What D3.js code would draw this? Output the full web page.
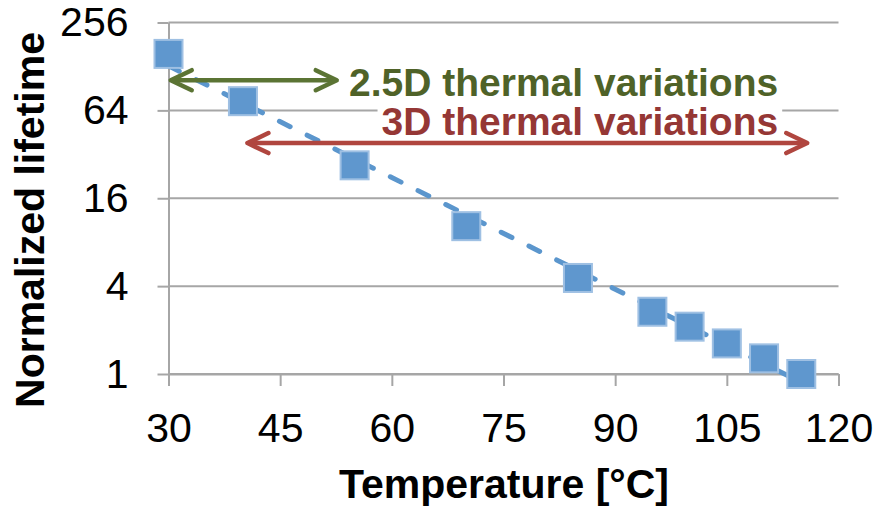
<!DOCTYPE html>
<html>
<head>
<meta charset="utf-8">
<script src="https://cdn.jsdelivr.net/npm/d3@7"></script>
<style>
  html, body { margin: 0; padding: 0; background: #fff; }
  svg { display: block; font-family: "Liberation Sans", Arial, sans-serif; }
</style>
</head>
<body>
<svg id="chart" width="876" height="510"></svg>
<script>
// Measured lifetime, normalized to the value at 115 °C
const temperatures = [30, 40, 55, 70, 85, 95, 100, 105, 110, 115];
const lifetimes = [156, 74, 26.9, 10.3, 4.55, 2.67, 2.11, 1.62, 1.28, 1.0];

const xTicks = [30, 45, 60, 75, 90, 105, 120];
const yTicks = [1, 4, 16, 64, 256];

const xTitle = "Temperature [°C]";
const yTitle = "Normalized lifetime";

// Range annotations: [start °C, end °C, lifetime level of the arrow]
const annotLabels = ["2.5D thermal variations", "3D thermal variations"];
const annotRanges = [[30.3, 52.6, 103], [40.6, 115.8, 38.2]];
const annotTextPos = [[111.9, 80.5], [111.9, 43.6]];   // [°C, lifetime] of label baseline end
const annotTextColors = ["#4F6228", "#953735"];
const annotArrowColors = ["#5B7434", "#B0463F"];

const svg = d3.select("#chart");
const plot = { left: 168.5, right: 838.5, top: 22.5, bottom: 374 };

const x = d3.scaleLinear().domain([30, 120]).range([plot.left, plot.right]);
const y = d3.scaleLog().base(2).domain([1, 256]).range([plot.bottom, plot.top]);

const gridColor = "#A6A6A6";

// horizontal gridlines
svg.append("g")
  .selectAll("line")
  .data(yTicks)
  .join("line")
  .attr("x1", plot.left).attr("x2", plot.right)
  .attr("y1", d => y(d)).attr("y2", d => y(d))
  .attr("stroke", gridColor).attr("stroke-width", 2);

// axes
const yAxis = svg.append("g")
  .attr("transform", `translate(${plot.left},0)`)
  .call(d3.axisLeft(y).tickValues(yTicks).tickFormat(d3.format("d"))
    .tickSize(11).tickSizeOuter(0).tickPadding(29));

const xAxis = svg.append("g")
  .attr("transform", `translate(0,${plot.bottom})`)
  .call(d3.axisBottom(x).tickValues(xTicks).tickFormat(d3.format("d"))
    .tickSize(12).tickSizeOuter(0).tickPadding(27));

[xAxis, yAxis].forEach(g => {
  g.select(".domain").attr("stroke", gridColor).attr("stroke-width", 2);
  g.selectAll(".tick line").attr("stroke", gridColor).attr("stroke-width", 2);
  g.selectAll(".tick text")
    .attr("fill", "#000")
    .style("font-family", "'Liberation Sans', Arial, sans-serif")
    .style("font-size", "41px");
});

// axis titles
svg.append("text")
  .attr("x", (plot.left + plot.right) / 2 + 0.5)
  .attr("y", 498)
  .attr("text-anchor", "middle")
  .style("font-size", "41px").style("font-weight", "bold")
  .text(xTitle);

svg.append("text")
  .attr("transform", "translate(44,220) rotate(-90)")
  .attr("text-anchor", "middle")
  .style("font-size", "41px").style("font-weight", "bold")
  .text(yTitle);

// exponential least-squares trendline (linear fit of log2 lifetime vs temperature)
const logs = lifetimes.map(v => Math.log2(v));
const mt = d3.mean(temperatures), ml = d3.mean(logs);
const sxy = d3.sum(temperatures, (t, i) => (t - mt) * (logs[i] - ml));
const sxx = d3.sum(temperatures, t => (t - mt) ** 2);
const slope = sxy / sxx, icpt = ml - slope * mt;
const fit = t => Math.pow(2, icpt + slope * t);
const tExt = d3.extent(temperatures);

svg.append("line")
  .attr("x1", x(tExt[0])).attr("y1", y(fit(tExt[0])))
  .attr("x2", x(tExt[1])).attr("y2", y(fit(tExt[1])))
  .attr("stroke", "#5B96CD").attr("stroke-width", 5)
  .attr("stroke-linecap", "round")
  .attr("stroke-dasharray", "12,19");

// square markers with soft edges
const defs = svg.append("defs");
defs.append("filter").attr("id", "soft")
  .attr("x", "-20%").attr("y", "-20%").attr("width", "140%").attr("height", "140%")
  .append("feGaussianBlur").attr("stdDeviation", 0.7);

const size = 28;
svg.append("g")
  .attr("filter", "url(#soft)")
  .selectAll("rect")
  .data(temperatures)
  .join("rect")
  .attr("x", d => x(d) - size / 2)
  .attr("y", (d, i) => y(lifetimes[i]) - size / 2)
  .attr("width", size).attr("height", size)
  .attr("fill", "#5E97CE")
  .attr("stroke", "#9FC0E3").attr("stroke-width", 2);

// range arrows and their labels
function chevron(g, tipX, tipY, dir, color) {
  g.append("path")
    .attr("d", `M${tipX + dir * 21},${tipY - 10} L${tipX},${tipY} L${tipX + dir * 21},${tipY + 10}`)
    .attr("fill", "none").attr("stroke", color).attr("stroke-width", 4.5)
    .attr("stroke-linecap", "round").attr("stroke-linejoin", "round");
}

annotLabels.forEach((label, i) => {
  const g = svg.append("g");
  const [t0, t1, lv] = annotRanges[i];
  const ay = y(lv), ax0 = x(t0), ax1 = x(t1);

  const bg = g.append("rect").attr("fill", "#fff");
  const txt = g.append("text")
    .attr("x", x(annotTextPos[i][0]))
    .attr("y", y(annotTextPos[i][1]))
    .attr("text-anchor", "end")
    .attr("fill", annotTextColors[i])
    .style("font-size", "39px").style("font-weight", "bold")
    .text(label);
  const bb = txt.node().getBBox();
  bg.attr("x", bb.x - 4).attr("y", bb.y + 4).attr("width", bb.width + 8).attr("height", bb.height - 8);

  g.append("line")
    .attr("x1", ax0 + 2).attr("x2", ax1 - 2).attr("y1", ay).attr("y2", ay)
    .attr("stroke", annotArrowColors[i]).attr("stroke-width", 4.5);
  chevron(g, ax0, ay, 1, annotArrowColors[i]);
  chevron(g, ax1, ay, -1, annotArrowColors[i]);
});
</script>
</body>
</html>
